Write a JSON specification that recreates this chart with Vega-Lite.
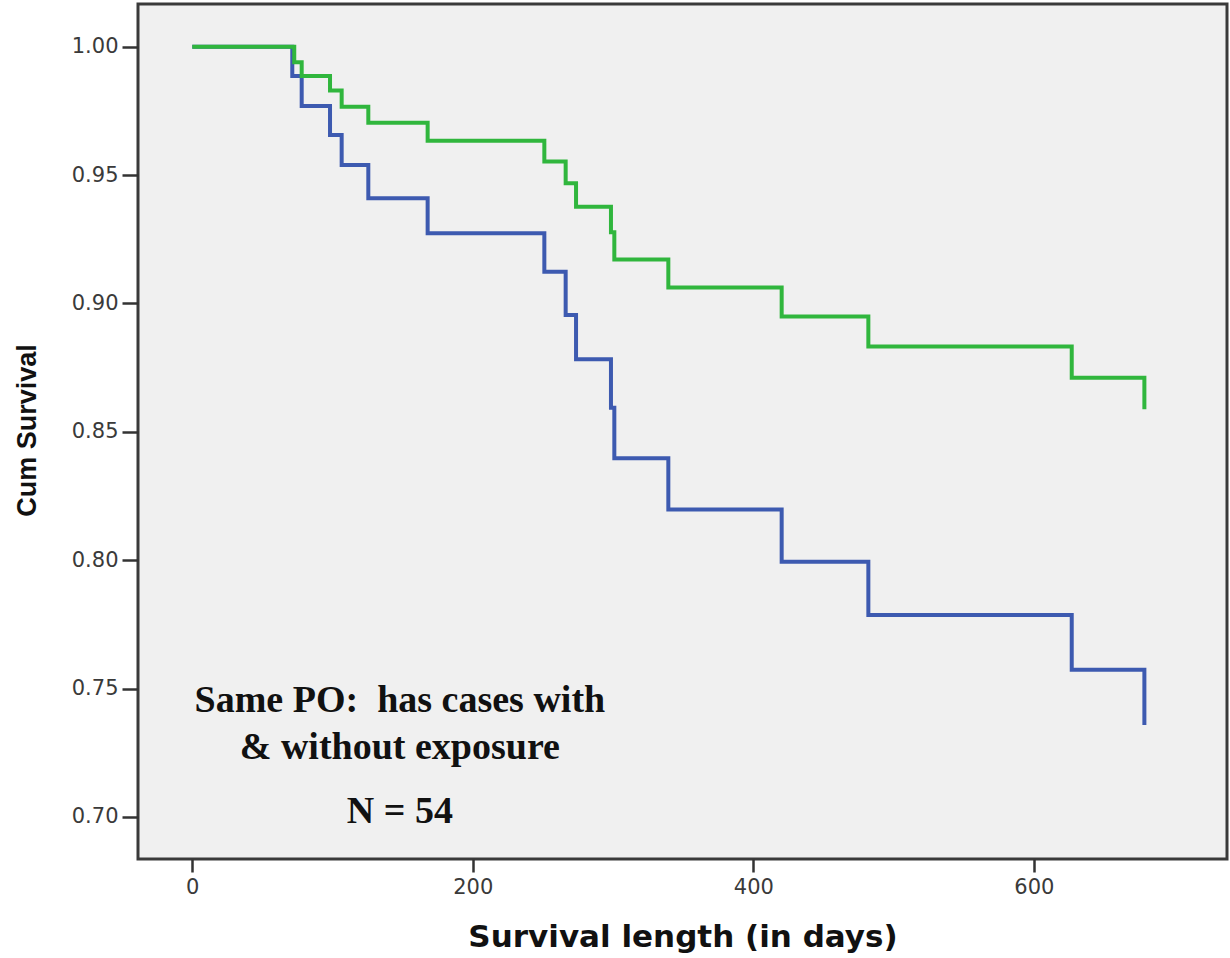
{
  "$schema": "https://vega.github.io/schema/vega-lite/v6.json",
  "autosize": {"type": "none"},
  "padding": {"left": 138, "top": 4, "right": 3, "bottom": 99},
  "width": 1089,
  "height": 855,
  "background": "#ffffff",
  "config": {
    "view": {"fill": "#f0f0f0", "stroke": "#3a3a3a", "strokeWidth": 3},
    "axis": {"grid": false, "domain": false, "labelFont": "DejaVu Sans", "labelFontSize": 21, "labelColor": "#3a3a3a", "tickColor": "#333333", "tickWidth": 2.5}
  },
  "datasets": {
    "km": [
      {"group": "Exposed", "days": 0, "survival": 1.0},
      {"group": "Exposed", "days": 71.3, "survival": 0.9886},
      {"group": "Exposed", "days": 78.0, "survival": 0.9769},
      {"group": "Exposed", "days": 98.2, "survival": 0.9656},
      {"group": "Exposed", "days": 106.5, "survival": 0.9539},
      {"group": "Exposed", "days": 125.5, "survival": 0.9410},
      {"group": "Exposed", "days": 167.8, "survival": 0.9273},
      {"group": "Exposed", "days": 251.0, "survival": 0.9124},
      {"group": "Exposed", "days": 266.2, "survival": 0.8955},
      {"group": "Exposed", "days": 273.6, "survival": 0.8783},
      {"group": "Exposed", "days": 298.5, "survival": 0.8594},
      {"group": "Exposed", "days": 300.9, "survival": 0.8397},
      {"group": "Exposed", "days": 339.4, "survival": 0.8198},
      {"group": "Exposed", "days": 420.2, "survival": 0.7994},
      {"group": "Exposed", "days": 482.0, "survival": 0.7787},
      {"group": "Exposed", "days": 627.0, "survival": 0.7573},
      {"group": "Exposed", "days": 678.8, "survival": 0.7358},
      {"group": "Unexposed", "days": 0, "survival": 1.0},
      {"group": "Unexposed", "days": 72.7, "survival": 0.9939},
      {"group": "Unexposed", "days": 78.0, "survival": 0.9886},
      {"group": "Unexposed", "days": 98.2, "survival": 0.9829},
      {"group": "Unexposed", "days": 106.5, "survival": 0.9766},
      {"group": "Unexposed", "days": 125.5, "survival": 0.9704},
      {"group": "Unexposed", "days": 167.8, "survival": 0.9634},
      {"group": "Unexposed", "days": 251.0, "survival": 0.9553},
      {"group": "Unexposed", "days": 266.2, "survival": 0.9468},
      {"group": "Unexposed", "days": 273.6, "survival": 0.9377},
      {"group": "Unexposed", "days": 298.5, "survival": 0.9277},
      {"group": "Unexposed", "days": 300.9, "survival": 0.9171},
      {"group": "Unexposed", "days": 339.4, "survival": 0.9062},
      {"group": "Unexposed", "days": 420.2, "survival": 0.8949},
      {"group": "Unexposed", "days": 482.0, "survival": 0.8832},
      {"group": "Unexposed", "days": 627.0, "survival": 0.8711},
      {"group": "Unexposed", "days": 678.8, "survival": 0.8588}
    ]
  },
  "layer": [
    {
      "data": {"name": "km"},
      "transform": [{"filter": "datum.group === 'Exposed'"}],
      "mark": {"type": "line", "interpolate": "step-after", "strokeWidth": 4, "color": "#3d5ab0", "strokeJoin": "miter"},
      "encoding": {
        "x": {
          "field": "days", "type": "quantitative",
          "scale": {"domain": [-38.7, 737.7], "nice": false, "zero": false},
          "axis": {"values": [0, 200, 400, 600], "tickSize": 13, "labelPadding": 4,
                   "title": "Survival length (in days)", "titleFont": "DejaVu Sans", "titleFontSize": 31, "titleFontWeight": "bold", "titleColor": "#111111",
                   "titleBaseline": "middle", "titleY": 78}
        },
        "y": {
          "field": "survival", "type": "quantitative",
          "scale": {"domain": [0.68364, 1.01663], "nice": false, "zero": false},
          "axis": {"values": [0.70, 0.75, 0.80, 0.85, 0.90, 0.95, 1.00], "format": ".2f", "tickSize": 16, "labelPadding": 4,
                   "title": "Cum Survival", "titleFont": "Liberation Sans", "titleFontSize": 27, "titleFontWeight": "bold", "titleColor": "#111111",
                   "titleAngle": -90, "titleBaseline": "middle", "titleAlign": "center", "titleX": -111, "titleY": 426}
        }
      }
    },
    {
      "data": {"name": "km"},
      "transform": [{"filter": "datum.group === 'Unexposed'"}],
      "mark": {"type": "line", "interpolate": "step-after", "strokeWidth": 4, "color": "#30b63d", "strokeJoin": "miter"},
      "encoding": {
        "x": {"field": "days", "type": "quantitative"},
        "y": {"field": "survival", "type": "quantitative"}
      }
    },
    {
      "data": {"values": [{"label": "Same PO:\u00a0 has cases with"}]},
      "mark": {"type": "text", "font": "Liberation Serif", "fontSize": 38, "fontWeight": "bold", "color": "#111111", "align": "center", "baseline": "middle"},
      "encoding": {"text": {"field": "label"}, "x": {"datum": 148, "type": "quantitative"}, "y": {"datum": 0.7452, "type": "quantitative"}}
    },
    {
      "data": {"values": [{"label": "& without exposure"}]},
      "mark": {"type": "text", "font": "Liberation Serif", "fontSize": 38, "fontWeight": "bold", "color": "#111111", "align": "center", "baseline": "middle"},
      "encoding": {"text": {"field": "label"}, "x": {"datum": 148, "type": "quantitative"}, "y": {"datum": 0.7269, "type": "quantitative"}}
    },
    {
      "data": {"values": [{"label": "N = 54"}]},
      "mark": {"type": "text", "font": "Liberation Serif", "fontSize": 38, "fontWeight": "bold", "color": "#111111", "align": "center", "baseline": "middle"},
      "encoding": {"text": {"field": "label"}, "x": {"datum": 148, "type": "quantitative"}, "y": {"datum": 0.7020, "type": "quantitative"}}
    }
  ]
}
